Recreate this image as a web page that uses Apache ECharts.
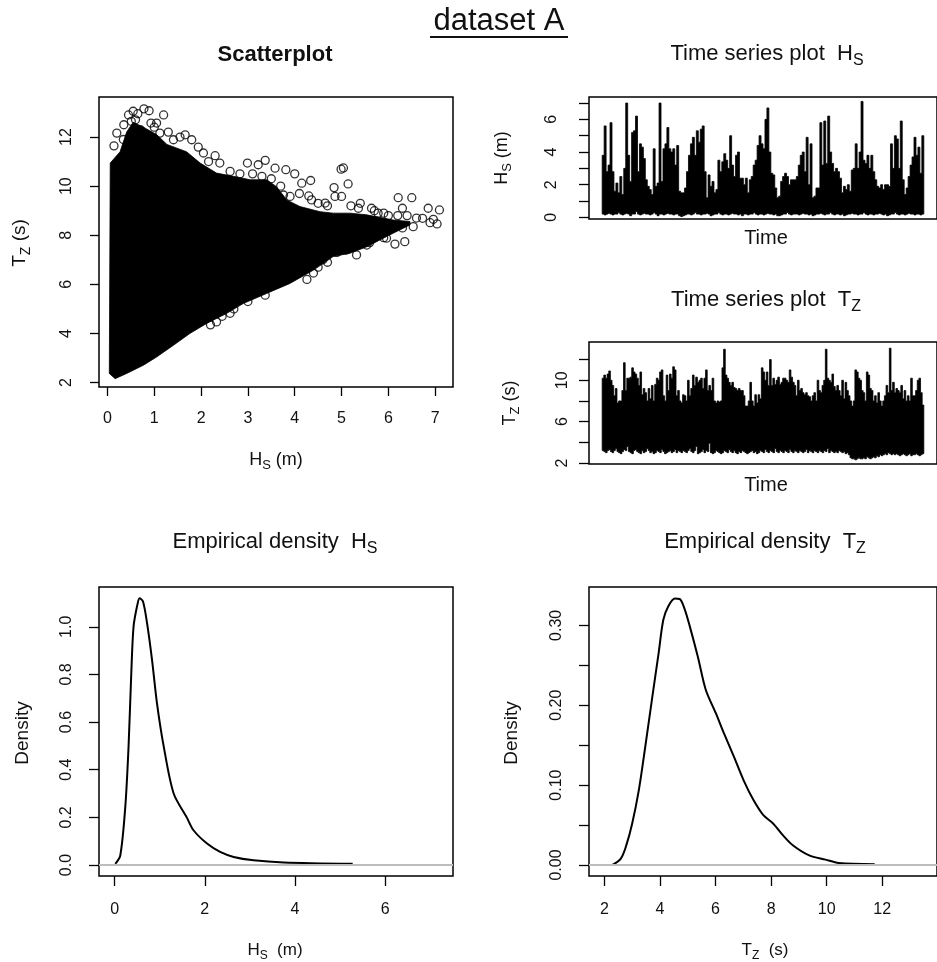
<!DOCTYPE html>
<html>
<head>
<meta charset="utf-8">
<script src="https://cdn.jsdelivr.net/npm/echarts@6/dist/echarts.min.js"></script>
<style>
html,body{margin:0;padding:0;background:#fff;}
#chart{width:937px;height:962px;}
</style>
</head>
<body>
<div id="chart"></div>
<script>
// ---------------- DATA ----------------
// Scatterplot: outline of the dense black cloud (Hs, Tz)
const scatterCloudHs = [0.165,0.41,0.77,1.05,1.41,1.76,2.12,2.55,2.9,3.4,3.9,4.4,4.82,5.18,5.54,5.82,6.1,6.46,6.46,6.1,5.54,5.18,4.82,4.54,4.11,3.83,3.61,3.4,3.05,2.69,2.33,1.98,1.69,1.27,1.05,0.77,0.55,0.41,0.27,0.06,0.04];
const scatterCloudTz = [2.16,2.37,2.71,3.04,3.52,4.0,4.41,4.82,5.22,5.63,6.04,6.58,7.13,7.27,7.53,7.81,8.08,8.42,8.56,8.62,8.83,8.9,8.9,8.96,9.17,9.44,9.98,10.26,10.26,10.4,10.53,10.94,11.4,11.7,12.1,12.4,12.6,12.2,11.4,10.94,2.37];
// Scatterplot: individual open circles at the fringe of the cloud
const outlierHs = [0.14,0.55,0.78,0.89,1.2,0.51,1.05,1.66,1.94,2.3,2.99,3.22,3.37,3.58,3.81,4.0,4.15,4.34,4.36,4.84,4.99,5.04,5.14,4.86,5.0,4.65,5.36,5.64,5.78,6.21,6.5,6.3,6.85,7.09,6.89,6.73,6.53,7.04,6.96,6.35,6.14,5.96,5.54,5.32,4.26,4.4,3.37,2.62,2.33,5.54,3.76,3.9,3.97,3.83,0.6,0.7,0.93,1.12,1.41,1.55,1.8,2.05,2.16,2.4,2.62,2.83,0.2,0.34,
  3.1,3.3,3.5,3.7,4.1,4.3,4.5,4.7,5.2,5.4,5.7,5.9,6.0,6.2,6.4,6.6,4.6,4.9,5.1,5.6,5.9,6.3,4.5,4.7,3.0,2.7,2.45,2.2,1.0,1.3,0.35,0.45,0.65];
const outlierTz = [11.64,13.05,13.15,13.07,12.9,12.64,12.57,12.09,11.59,11.24,10.94,10.87,11.05,10.73,10.67,10.5,10.12,10.23,9.44,9.94,10.69,10.74,10.09,9.58,9.58,9.31,9.1,9.1,8.9,9.53,9.53,9.1,9.1,9.03,8.51,8.69,8.35,8.46,8.65,7.74,7.64,7.88,7.6,7.2,6.2,6.46,5.56,4.82,4.47,8.6,9.64,9.58,8.62,8.42,12.7,12.3,12.57,12.16,11.89,12.0,11.89,11.35,11.0,10.94,10.6,10.5,12.16,11.9,
  10.5,10.4,10.3,10.0,9.7,9.6,9.3,9.2,9.2,9.3,9.0,8.9,8.8,8.8,8.8,8.7,7.0,7.3,7.4,7.7,7.9,8.3,6.7,6.9,5.3,5.0,4.7,4.35,12.4,12.2,12.5,12.9,12.95];

// Time series Hs: upper and lower envelope, left to right
const tsHsHigh = [3.8,5.6,2.8,3.2,5.8,2.8,1.6,2.1,1.5,2.5, 1.4,3.0,7.0,3.8,2.2,5.2,5.3,6.2,2.8,4.5, 4.3,3.6,2.3,1.9,1.7,1.4,4.2,1.9,2.1,7.0, 2.2,4.2,4.5,5.5,4.2,4.0,4.2,3.2,4.4,1.6, 1.5,1.5,1.8,2.8,3.8,4.5,4.9,3.8,5.3,4.6, 5.4,5.6,2.8,1.2,2.6,1.9,2.2,1.5,1.7,3.5, 2.8,3.4,3.9,3.5,3.0,5.0,3.2,2.5,3.8,4.0, 2.4,2.4,2.0,2.4,1.5,2.3,2.5,3.2,3.5,4.4, 5.0,4.5,4.2,6.0,6.7,4.0,2.7,2.6,1.8,1.2, 1.3,2.2,2.5,2.7,2.5,2.0,2.3,2.3,2.3,2.5, 3.2,3.8,4.0,2.8,4.9,2.0,4.5,1.2,1.3,1.8, 1.8,5.8,3.2,5.9,3.3,6.2,4.0,3.3,2.8,3.0, 2.8,2.4,1.5,1.9,1.7,2.0,1.6,2.9,3.0,4.5, 3.0,4.0,7.1,3.5,3.3,3.8,3.0,3.8,2.8,2.3, 1.9,1.8,2.0,1.7,2.0,2.0,1.9,4.5,3.0,5.0, 4.8,3.0,5.9,2.3,1.4,1.8,2.5,3.2,3.7,4.9, 3.8,4.3,2.7,5.0];
const tsHsLow = [0.2,0.15,0.2,0.25,0.2,0.15,0.2,0.2,0.3,0.2, 0.15,0.2,0.25,0.2,0.1,0.2,0.2,0.35,0.2,0.15, 0.2,0.25,0.2,0.2,0.15,0.2,0.3,0.2,0.1,0.2, 0.2,0.15,0.2,0.25,0.2,0.2,0.15,0.2,0.2,0.1, 0.05,0.1,0.15,0.2,0.2,0.15,0.2,0.3,0.2,0.2, 0.15,0.2,0.2,0.25,0.2,0.1,0.15,0.2,0.2,0.3, 0.2,0.15,0.2,0.2,0.15,0.2,0.25,0.2,0.2,0.15, 0.2,0.1,0.2,0.2,0.15,0.2,0.2,0.3,0.2,0.15, 0.2,0.2,0.15,0.2,0.25,0.2,0.2,0.15,0.2,0.1, 0.1,0.15,0.2,0.2,0.3,0.2,0.15,0.2,0.2,0.2, 0.15,0.2,0.25,0.2,0.2,0.15,0.2,0.1,0.15,0.2, 0.2,0.25,0.2,0.15,0.2,0.2,0.3,0.2,0.15,0.2, 0.2,0.15,0.2,0.1,0.15,0.2,0.2,0.25,0.2,0.2, 0.15,0.2,0.2,0.3,0.2,0.15,0.2,0.2,0.15,0.2, 0.2,0.25,0.2,0.15,0.2,0.1,0.15,0.2,0.2,0.3, 0.2,0.15,0.2,0.2,0.15,0.2,0.25,0.2,0.2,0.15, 0.2,0.2,0.15,0.2];

// Time series Tz: upper and lower envelope, left to right
const tsTzHigh = [10.2,10.5,10.2,10.6,10.9,10.0,9.5,8.5,9.2,7.8, 8.0,8.0,9.0,11.7,9.0,10.2,10.2,10.3,11.2,10.8, 10.6,10.2,9.5,10.8,8.6,9.2,8.8,8.0,9.2,8.2, 9.5,8.0,9.6,10.2,10.0,10.8,11.0,8.5,8.0,10.5, 9.0,10.6,10.2,11.3,11.0,8.5,9.0,8.0,7.8,8.6, 8.5,8.0,10.0,8.5,9.2,10.5,9.5,10.3,9.8,10.0, 10.2,9.2,10.2,11.0,9.0,9.5,9.0,10.2,8.0,7.8, 8.0,7.9,8.0,11.2,13.0,10.5,10.2,9.8,9.5,9.8, 9.3,9.2,9.0,9.2,9.0,9.0,8.5,7.5,7.5,8.0, 9.8,8.0,7.5,8.6,7.8,8.6,8.2,11.2,10.8,10.0, 10.8,9.5,12.0,9.5,10.2,9.6,10.0,10.3,9.6,9.8, 10.2,10.2,10.0,9.8,11.0,10.3,9.8,9.5,8.5,10.0, 9.0,9.2,8.8,8.6,8.8,8.5,8.4,8.0,8.5,8.8, 8.0,10.0,9.0,8.8,9.5,10.0,13.0,10.2,10.0,9.8, 10.6,9.4,9.0,9.5,9.0,8.5,10.0,8.2,9.8,9.0, 8.5,8.0,7.5,8.0,11.0,10.8,10.2,10.0,9.0,8.8, 8.0,10.8,10.5,9.2,9.0,8.0,8.5,7.8,8.8,8.0, 7.5,8.0,8.5,9.5,8.8,13.1,9.0,9.8,8.8,9.2, 9.0,8.8,9.5,8.2,9.0,8.0,8.5,8.0,10.2,8.5, 8.5,9.0,10.0,10.2,8.8,7.6];
const tsTzLow = [3.2,3.1,3.0,3.2,3.3,3.1,3.0,3.2,3.4,3.1, 3.0,2.9,3.1,3.3,3.2,3.6,3.1,3.0,2.9,3.2, 3.3,3.1,3.0,2.9,3.2,3.0,3.1,3.4,3.2,3.0, 3.1,2.9,3.0,3.2,3.1,3.0,3.3,3.1,2.9,3.0, 3.1,3.2,3.0,3.1,3.3,3.0,3.2,3.1,3.0,3.2, 3.1,3.0,3.2,3.4,3.1,3.0,3.2,3.6,2.9,3.0, 3.1,3.3,3.0,3.2,3.1,3.9,3.0,2.9,3.0,3.2, 3.1,3.0,2.9,3.0,3.2,3.1,3.0,3.3,3.1,3.0, 3.2,3.0,2.9,3.1,3.0,3.2,3.1,3.0,2.9,3.0, 3.1,3.2,3.0,3.1,2.9,3.0,3.2,3.1,3.0,3.3, 3.1,3.0,3.2,3.1,3.0,3.4,3.1,3.0,3.2,3.1, 3.0,3.2,3.1,3.0,3.3,3.1,3.0,3.2,3.1,3.0, 3.2,3.1,3.0,3.1,3.3,3.0,3.2,3.1,3.0,3.2, 3.1,3.0,3.2,3.1,3.0,3.2,3.1,3.4,3.0,3.2, 3.1,3.0,3.1,3.0,3.2,3.1,3.0,3.1,2.9,3.0, 2.8,2.5,2.4,2.4,2.3,2.4,2.5,2.4,2.4,2.5, 2.4,2.6,2.5,2.4,2.5,2.6,2.5,2.7,2.6,2.8, 2.7,2.8,2.9,2.8,3.0,2.9,2.8,2.9,2.8,2.9, 2.8,2.7,2.8,2.9,2.8,2.7,2.8,2.9,2.7,2.8, 2.8,2.9,2.8,2.7,2.8,2.9];

// Empirical density of Hs
const densHsX = [0.016,0.126,0.237,0.31,0.37,0.42,0.50,0.554,0.63,0.72,0.83,0.94,1.09,1.31,1.6,1.75,2.05,2.34,2.64,3.08,3.75,5.28];
const densHsY = [0.005,0.04,0.244,0.50,0.805,1.00,1.088,1.12,1.106,1.015,0.861,0.679,0.497,0.30,0.20,0.146,0.09,0.055,0.034,0.02,0.011,0.005];
// Empirical density of Tz
const densTzX = [2.29,2.59,2.77,3.0,3.24,3.47,3.71,3.95,4.12,4.30,4.54,4.71,4.89,5.07,5.36,5.65,6.01,6.30,6.66,7.01,7.37,7.72,8.07,8.43,8.78,9.37,9.96,10.43,11.73];
const densTzY = [0.0,0.008,0.0226,0.052,0.094,0.148,0.207,0.265,0.307,0.324,0.3335,0.333,0.32,0.299,0.261,0.219,0.19,0.165,0.1356,0.106,0.081,0.0624,0.052,0.037,0.0247,0.012,0.0067,0.0025,0.001];

// Tick values
const scatterXTicks = [0,1,2,3,4,5,6,7];
const scatterYTicks = [2,4,6,8,10,12];
const tsHsTicks = [0,1,2,3,4,5,6,7];
const tsHsLabels = [0,2,4,6];
const tsTzTicks = [2,4,6,8,10,12];
const tsTzLabels = [2,6,10];
const densHsXTicks = [0,2,4,6];
const densHsYTicks = [0,0.2,0.4,0.6,0.8,1.0];
const densTzXTicks = [2,4,6,8,10,12];
const densTzYTicks = [0,0.05,0.1,0.15,0.2,0.25,0.3];
const densTzYLabels = [0,0.1,0.2,0.3];

// ---------------- BUILD ----------------
const FONT = "'Liberation Sans', Arial, sans-serif";
const zip = (a, b) => a.map((v, i) => [v, b[i]]);
// step outline of a band: top edge left->right over highs, bottom edge right->left over lows
function bandOutline(hi, lo) {
  const pts = [];
  for (let i = 0; i < hi.length; i++) { pts.push([i, hi[i]]); pts.push([i + 1, hi[i]]); }
  for (let i = lo.length - 1; i >= 0; i--) { pts.push([i + 1, lo[i]]); pts.push([i, lo[i]]); }
  return pts;
}
const tsHsPts = bandOutline(tsHsHigh, tsHsLow);
const tsTzPts = bandOutline(tsTzHigh, tsTzLow);

function axis(gi, min, max, tickVals, labelVals, opts) {
  opts = opts || {};
  return {
    type: 'value', gridIndex: gi, min: min, max: max,
    axisLine: {show: false, onZero: false},
    splitLine: {show: false},
    axisTick: tickVals ? {show: true, customValues: tickVals, length: opts.tickLen || 9, lineStyle: {color: '#000', width: 1.3}} : {show: false},
    axisLabel: labelVals ? {show: true, customValues: labelVals, margin: opts.margin || 24, rotate: opts.rotate || 0,
      fontFamily: FONT, fontSize: 16, color: '#111', formatter: opts.fmt || (v => String(v)), hideOverlap: false} : {show: false}
  };
}

function grid(left, top, width, height) {
  return {left: left, top: top, width: width, height: height, show: true, borderColor: '#000', borderWidth: 1.5, backgroundColor: 'transparent', containLabel: false};
}

const grids = [
  grid(99, 97, 354, 290),     // scatter
  grid(589, 97, 354, 122),    // ts Hs
  grid(589, 342, 354, 122),   // ts Tz
  grid(99, 587, 354, 289),    // density Hs
  grid(589, 587, 354, 289)    // density Tz
];

const nHs = tsHsHigh.length, nTz = tsTzHigh.length;
const xAxes = [
  axis(0, -0.18, 7.38, scatterXTicks, scatterXTicks, {margin: 24}),
  axis(1, -0.041*nHs, 1.041*nHs, null, null),
  axis(2, -0.041*nTz, 1.041*nTz, null, null),
  axis(3, -0.346, 7.505, densHsXTicks, densHsXTicks, {margin: 26, tickLen: 10}),
  axis(4, 1.445, 13.97, densTzXTicks, densTzXTicks, {margin: 26, tickLen: 10})
];
const yAxes = [
  axis(0, 1.82, 13.63, scatterYTicks, scatterYTicks, {rotate: 90, margin: 24}),
  axis(1, -0.1, 7.37, tsHsTicks, tsHsLabels, {rotate: 90, margin: 29, tickLen: 10}),
  axis(2, 1.9, 13.7, tsTzTicks, tsTzLabels, {rotate: 90, margin: 18, tickLen: 10}),
  axis(3, -0.046, 1.167, densHsYTicks, densHsYTicks, {rotate: 90, margin: 24, tickLen: 10, fmt: v => v.toFixed(1)}),
  axis(4, -0.0138, 0.348, densTzYTicks, densTzYLabels, {rotate: 90, margin: 24, tickLen: 10, fmt: v => v.toFixed(2)})
];

function polySeries(xi, pts) {
  return {
    type: 'custom', xAxisIndex: xi, yAxisIndex: xi, silent: true,
    data: [pts[0]],
    renderItem: function (params, api) {
      return {type: 'polygon', shape: {points: pts.map(p => api.coord(p))}, style: {fill: '#000', stroke: '#000', lineWidth: 0.8}};
    }
  };
}

const series = [
  polySeries(0, zip(scatterCloudHs, scatterCloudTz)),
  {
    type: 'scatter', xAxisIndex: 0, yAxisIndex: 0, silent: true,
    data: zip(outlierHs, outlierTz), symbol: 'circle', symbolSize: 8,
    itemStyle: {color: 'rgba(0,0,0,0)', borderColor: '#000', borderWidth: 1.3}
  },
  polySeries(1, tsHsPts),
  polySeries(2, tsTzPts),
  {
    type: 'line', xAxisIndex: 3, yAxisIndex: 3, data: zip(densHsX, densHsY), showSymbol: false, silent: true, smooth: 0.3,
    lineStyle: {color: '#000', width: 2},
    markLine: {silent: true, symbol: ['none','none'], label: {show: false}, lineStyle: {color: '#bdbdbd', width: 2, type: 'solid'}, data: [{yAxis: 0}], animation: false},
    z: 3
  },
  {
    type: 'line', xAxisIndex: 4, yAxisIndex: 4, data: zip(densTzX, densTzY), showSymbol: false, silent: true, smooth: 0.3,
    lineStyle: {color: '#000', width: 2},
    markLine: {silent: true, symbol: ['none','none'], label: {show: false}, lineStyle: {color: '#bdbdbd', width: 2, type: 'solid'}, data: [{yAxis: 0}], animation: false},
    z: 3
  }
];

// text helper: main text with optional subscript part and trailing text
function label(x, y, main, sub, tail, size, opts) {
  opts = opts || {};
  const subSize = Math.round(size * 0.72);
  let text = '{m|' + main + '}';
  if (sub) text += '{s|' + sub + '}';
  if (tail) text += '{m|' + tail + '}';
  return {
    type: 'text', x: x, y: y, rotation: opts.rot ? Math.PI / 2 : 0, silent: true,
    style: {
      text: text, align: 'center', verticalAlign: 'middle', textAlign: 'center', textVerticalAlign: 'middle', fill: '#111',
      rich: {
        m: {fontFamily: FONT, fontSize: size, fontWeight: opts.bold ? 'bold' : 'normal', lineHeight: size + 4, verticalAlign: 'top', fill: '#111'},
        s: {fontFamily: FONT, fontSize: subSize, lineHeight: subSize + 2, padding: [Math.round(size * 0.45), 0, 0, 0], verticalAlign: 'top', fill: '#111'}
      }
    }
  };
}

const graphics = [
  label(499, 23, 'dataset A', null, null, 31),
  {type: 'line', silent: true, shape: {x1: 430, y1: 37, x2: 568, y2: 37}, style: {stroke: '#111', lineWidth: 2}},
  label(275, 57, 'Scatterplot', null, null, 22, {bold: true}),
  label(276, 462, 'H', 'S', ' (m)', 18),
  label(22, 243, 'T', 'Z', ' (s)', 19, {rot: true}),
  label(767, 56, 'Time series plot  H', 'S', null, 22),
  label(766, 240, 'Time', null, null, 20),
  label(504, 158, 'H', 'S', ' (m)', 18, {rot: true}),
  label(766, 302, 'Time series plot  T', 'Z', null, 22),
  label(766, 487, 'Time', null, null, 20),
  label(512, 403, 'T', 'Z', ' (s)', 18, {rot: true}),
  label(275, 544, 'Empirical density  H', 'S', null, 22),
  label(765, 544, 'Empirical density  T', 'Z', null, 22),
  label(25, 733, 'Density', null, null, 19, {rot: true}),
  label(514, 733, 'Density', null, null, 19, {rot: true}),
  label(275, 952, 'H', 'S', '  (m)', 17),
  label(765, 952, 'T', 'Z', '  (s)', 17)
];

const chart = echarts.init(document.getElementById('chart'), null, {renderer: 'canvas'});
chart.setOption({
  animation: false,
  backgroundColor: '#fff',
  grid: grids,
  xAxis: xAxes,
  yAxis: yAxes,
  series: series,
  graphic: graphics
});
</script>
</body>
</html>
